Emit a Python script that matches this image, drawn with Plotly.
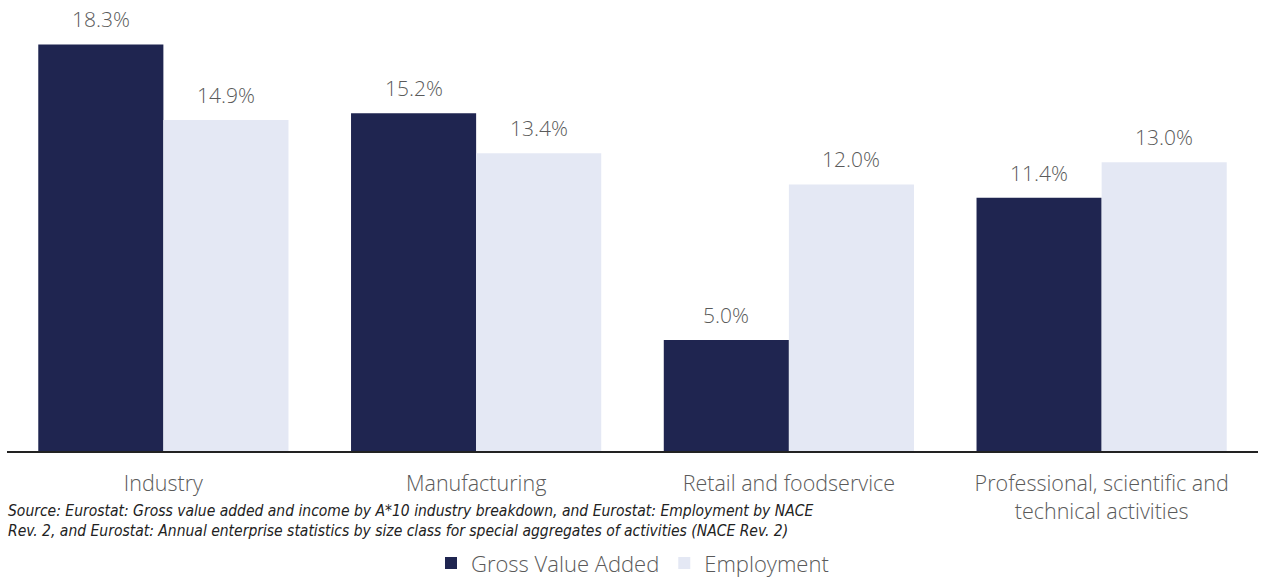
import plotly.graph_objects as go

categories = ["Industry", "Manufacturing", "Retail and foodservice", "Professional, scientific and<br>technical activities"]
gva = [18.3, 15.2, 5.0, 11.4]
employment = [14.9, 13.4, 12.0, 13.0]
series_names = ["Gross Value Added", "Employment"]
source_text = ("Source: Eurostat: Gross value added and income by A*10 industry breakdown, and Eurostat: Employment by NACE<br>"
               "Rev. 2, and Eurostat: Annual enterprise statistics by size class for special aggregates of activities (NACE Rev. 2)")

FONT = "Open Sans"
TXT = "#5a5a5a"

fig = go.Figure()
fig.add_trace(go.Bar(x=categories, y=gva, name=series_names[0], marker_color="#1f2550",
                     marker_line_width=0))
fig.add_trace(go.Bar(x=categories, y=employment, name=series_names[1], marker_color="#e4e8f4",
                     marker_line_width=0))

annotations = []
for vals, shift in ((gva, -62.5), (employment, 62.5)):
    for c, v in zip(categories, vals):
        annotations.append(dict(x=c, y=v, xref="x", yref="y", text=f"{v:.1f}%",
                                showarrow=False, xshift=shift, yanchor="bottom", yshift=9,
                                font=dict(family=FONT, size=21, color=TXT, weight=300)))

annotations.append(dict(text=source_text, xref="paper", yref="paper", x=-0.001, y=-0.108,
                        xanchor="left", yanchor="top", align="left", showarrow=False,
                        font=dict(family="DejaVu Sans Condensed", size=15.5, color="#222222",
                                  style="italic")))

fig.update_layout(
    width=1263, height=577,
    margin=dict(l=7, r=5, t=0, b=126, autoexpand=False),
    paper_bgcolor="white", plot_bgcolor="white",
    barmode="group", bargap=0.2, bargroupgap=0,
    font=dict(family=FONT, color=TXT),
    showlegend=True,
    legend=dict(orientation="h", x=0.5, xanchor="center", y=-0.249, yref="paper",
                yanchor="middle", font=dict(family=FONT, size=22, color=TXT, weight=300),
                traceorder="normal", itemwidth=30),
    xaxis=dict(showgrid=False, showline=True, linecolor="#222222", linewidth=1.5,
               tickfont=dict(family=FONT, size=21.5, color=TXT, weight=300), ticks="",
               ticklabelstandoff=12),
    yaxis=dict(visible=False, range=[0, 20.3]),
    annotations=annotations,
)

fig.write_html("out.html")
